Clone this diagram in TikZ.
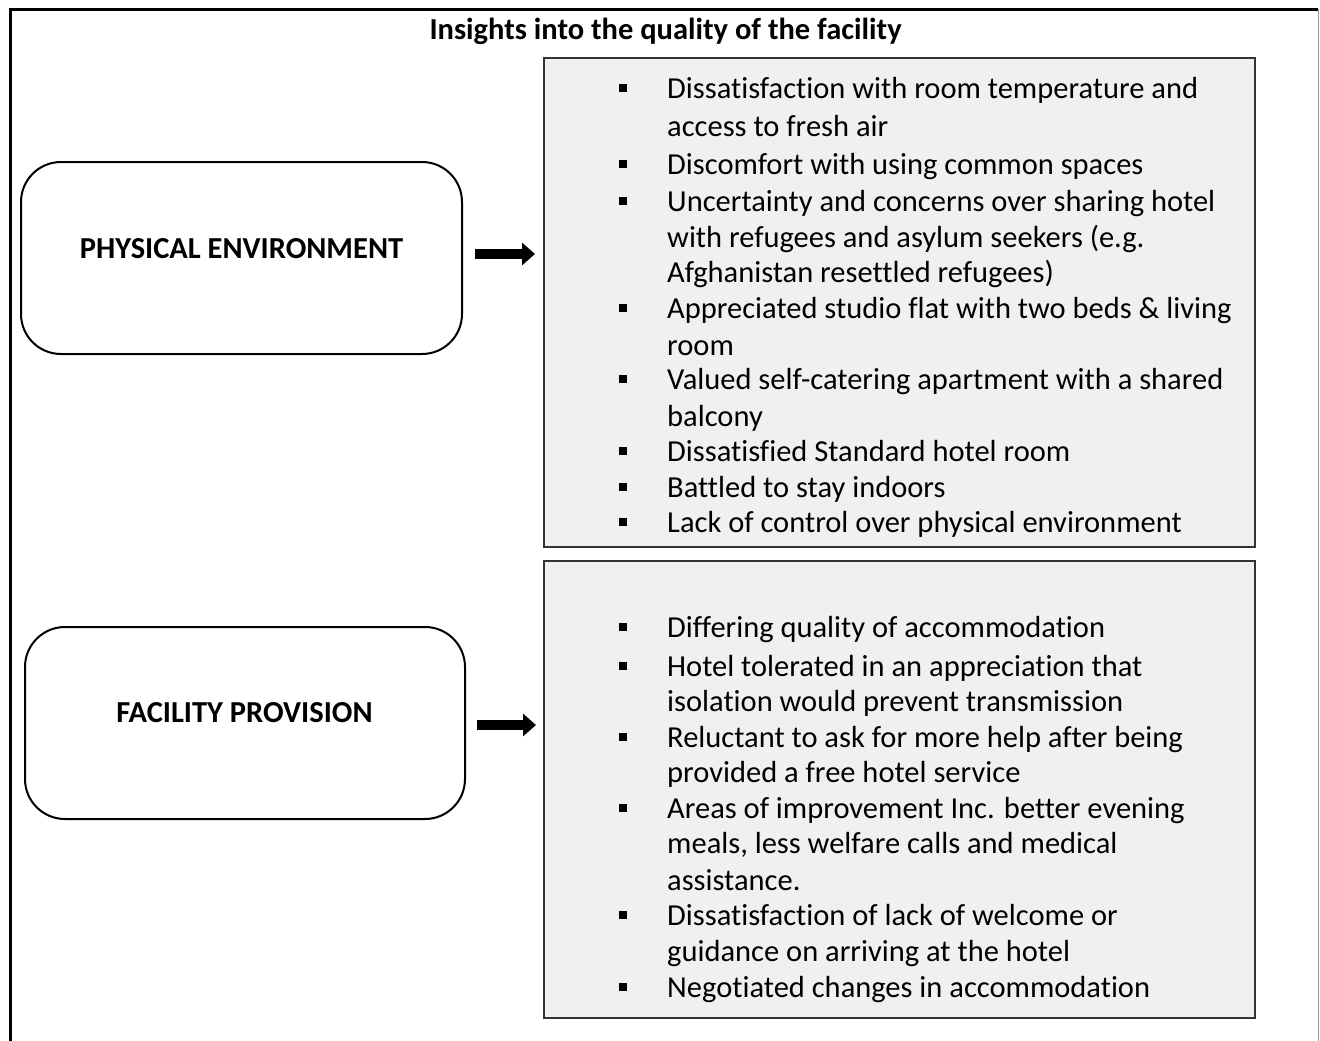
\documentclass[tikz,border=0pt]{standalone}
\usepackage{fontspec}
\setmainfont{Carlito}[Ligatures=NoCommon]
\usetikzlibrary{arrows.meta}
\begin{document}
\begin{tikzpicture}[x=1pt,y=-1pt,
  graybox/.style={draw=black!80, line width=2pt, fill=black!6},
  topic/.style={draw=black, line width=2pt, rounded corners=40pt},
  item/.style={anchor=base west, inner sep=0pt, text=black, font=\fontsize{30.5}{36}\selectfont},
  blt/.style={fill=black, minimum size=8pt, inner sep=0pt},
  label/.style={anchor=base, font=\bfseries\fontsize{30.5}{36}\selectfont, inner sep=0pt},
  arr/.style={line width=10pt, -{Triangle[length=13pt,width=22pt]}}]
\useasboundingbox (0,0) rectangle (1320,1041);
% outer frame
\draw[line width=3pt] (10,1041) -- (10,9.5) -- (1318,9.5);
\draw[line width=1pt, black!40] (1318.5,9.5) -- (1318.5,1041);
% title
\node[label] (title) at (665.5,39.5) {Insights into the quality of the facility};
% gray boxes
\draw[graybox] (544,58) rectangle (1255,547);
\coordinate (g1w) at (544,254);
\draw[graybox] (544,561) rectangle (1255,1018);
\coordinate (g2w) at (544,725);
% topic boxes
\node[topic, minimum width=441pt, minimum height=192pt] (pe) at (241.5,258) {};
\node[label] (pel) at (241.5,258) {PHYSICAL ENVIRONMENT};
\node[topic, minimum width=440pt, minimum height=192pt] (fp) at (245,723) {};
\node[label] (fpl) at (244.5,722) {FACILITY PROVISION};
% arrows
\draw[arr] (pe.east |- g1w) ++(12pt,0) coordinate (a1s) -- ([xshift=-9pt]g1w);
\draw[arr] (fp.east |- g2w) ++(11pt,0) coordinate (a2s) -- ([xshift=-8pt]g2w);
% items box 1
\foreach \y/\t/\b [count=\i] in {
  88/{Dissatisfaction with room temperature and}/1,
  126/{access to fresh air}/0,
  164/{Discomfort with using common spaces}/1,
  201/{Uncertainty and concerns over sharing hotel}/1,
  237/{with refugees and asylum seekers (e.g.}/0,
  272/{Afghanistan resettled refugees)}/0,
  308/{Appreciated studio flat with two beds \& living}/1,
  345/{room}/0,
  379/{Valued self-catering apartment with a shared}/1,
  416/{balcony}/0,
  451/{Dissatisfied Standard hotel room}/1,
  487/{Battled to stay indoors}/1,
  522/{Lack of control over physical environment}/1}{
  \node[item] (a\i) at (667,\y+10) {\t};
  \ifnum\b=1 \node[blt] (ab\i) at (623,\y) {};\fi
}
% items box 2
\foreach \y/\t/\b [count=\i] in {
  627/{Differing quality of accommodation}/1,
  666/{Hotel tolerated in an appreciation that}/1,
  701/{isolation would prevent transmission}/0,
  737/{Reluctant to ask for more help after being}/1,
  772/{provided a free hotel service}/0,
  808/{Areas of improvement Inc. better evening}/1,
  843/{meals, less welfare calls and medical}/0,
  880/{assistance.}/0,
  915/{Dissatisfaction of lack of welcome or}/1,
  951/{guidance on arriving at the hotel}/0,
  987/{Negotiated changes in accommodation}/1}{
  \node[item] (b\i) at (667,\y+10) {\t};
  \ifnum\b=1 \node[blt] (bb\i) at (623,\y) {};\fi
}
\end{tikzpicture}
\end{document}
